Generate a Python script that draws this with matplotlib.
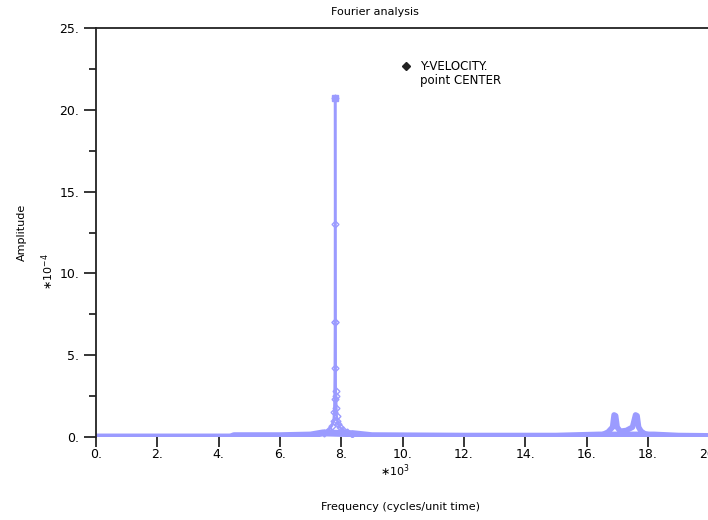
import numpy as np
import matplotlib.pyplot as plt
from matplotlib.ticker import MultipleLocator, FormatStrFormatter

# frequency in units of 1e3 cycles/unit time, amplitude in units of 1e-4
freq_base = [0.0, 2.0, 4.4, 4.5, 6.0, 7.0, 7.4, 8.4, 9.0, 12.0, 15.0, 16.4, 18.2, 19.0, 20.0]
amp_base = [0.0, 0.0, 0.0, 0.08, 0.08, 0.12, 0.25, 0.2, 0.08, 0.05, 0.05, 0.12, 0.12, 0.05, 0.03]

freq_peak = [7.45, 7.60, 7.70, 7.75, 7.77, 7.78, 7.79, 7.795, 7.80, 7.805, 7.81, 7.82,
             7.83, 7.84, 7.85, 7.87, 7.90, 7.95, 8.05, 8.20, 8.35]
amp_peak = [0.25, 0.45, 0.7, 1.0, 1.5, 2.3, 4.2, 7.0, 20.7, 13.0, 7.0, 2.8,
            2.5, 1.8, 1.3, 1.0, 0.8, 0.6, 0.45, 0.3, 0.2]

freq_side = [16.50, 16.70, 16.85, 16.90, 16.95, 17.00, 17.10, 17.30, 17.50, 17.60,
             17.65, 17.70, 17.78, 17.90, 18.10]
amp_side = [0.12, 0.3, 0.6, 1.35, 1.3, 0.6, 0.35, 0.4, 0.6, 1.35, 1.3, 0.6, 0.35, 0.2, 0.1]

col = '#9b9bff'

fig = plt.figure(figsize=(7.08, 5.2), dpi=100)
ax = fig.add_axes([0.1356, 0.1596, 0.866, 0.7865])

ax.plot(freq_base, amp_base, color=col, lw=5, solid_capstyle='butt', zorder=2)
ax.plot(freq_side, amp_side, color=col, lw=4, zorder=2)
ax.plot(freq_peak, amp_peak, color=col, lw=1.8, marker='D', ms=3.5, mfc='none',
        mec=col, mew=1, zorder=3)
ax.plot([freq_peak[8]], [amp_peak[8]], color=col, marker='s', ms=5, zorder=4)

ax.set_xlim(0, 20)
ax.set_ylim(0, 25)
ax.xaxis.set_major_locator(MultipleLocator(2))
ax.yaxis.set_major_locator(MultipleLocator(5))
ax.yaxis.set_minor_locator(MultipleLocator(2.5))
ax.xaxis.set_major_formatter(FormatStrFormatter('%d.'))
ax.yaxis.set_major_formatter(FormatStrFormatter('%d.'))
ax.tick_params(axis='y', which='major', direction='out', length=9, width=1.1, labelsize=9, pad=3)
ax.tick_params(axis='y', which='minor', direction='out', length=5, width=1.1)
ax.tick_params(axis='x', which='major', direction='out', length=7, width=1.1, labelsize=9, pad=1)
for s in ax.spines.values():
    s.set_linewidth(1.3)
    s.set_color('#222222')
ax.spines['bottom'].set_visible(False)

fig.text(0.53, 0.977, 'Fourier analysis', ha='center', va='center', fontsize=8)
fig.text(0.031, 0.553, 'Amplitude', rotation=90, ha='center', va='center', fontsize=8)
fig.text(0.068, 0.477, r'$\ast10^{-4}$', rotation=90, ha='center', va='center', fontsize=8)
fig.text(0.558, 0.094, r'$\ast10^{3}$', ha='center', va='center', fontsize=8)
fig.text(0.565, 0.025, 'Frequency (cycles/unit time)', ha='center', va='center', fontsize=8)

# legend entry
fig.lines.append(plt.Line2D([0.574], [0.873], transform=fig.transFigure, marker='D',
                            ms=4, color='#222222', mfc='#222222'))
fig.text(0.593, 0.873, 'Y-VELOCITY.', ha='left', va='center', fontsize=8.5)
fig.text(0.593, 0.845, 'point CENTER', ha='left', va='center', fontsize=8.5)

fig.savefig('out.png', dpi=100)
